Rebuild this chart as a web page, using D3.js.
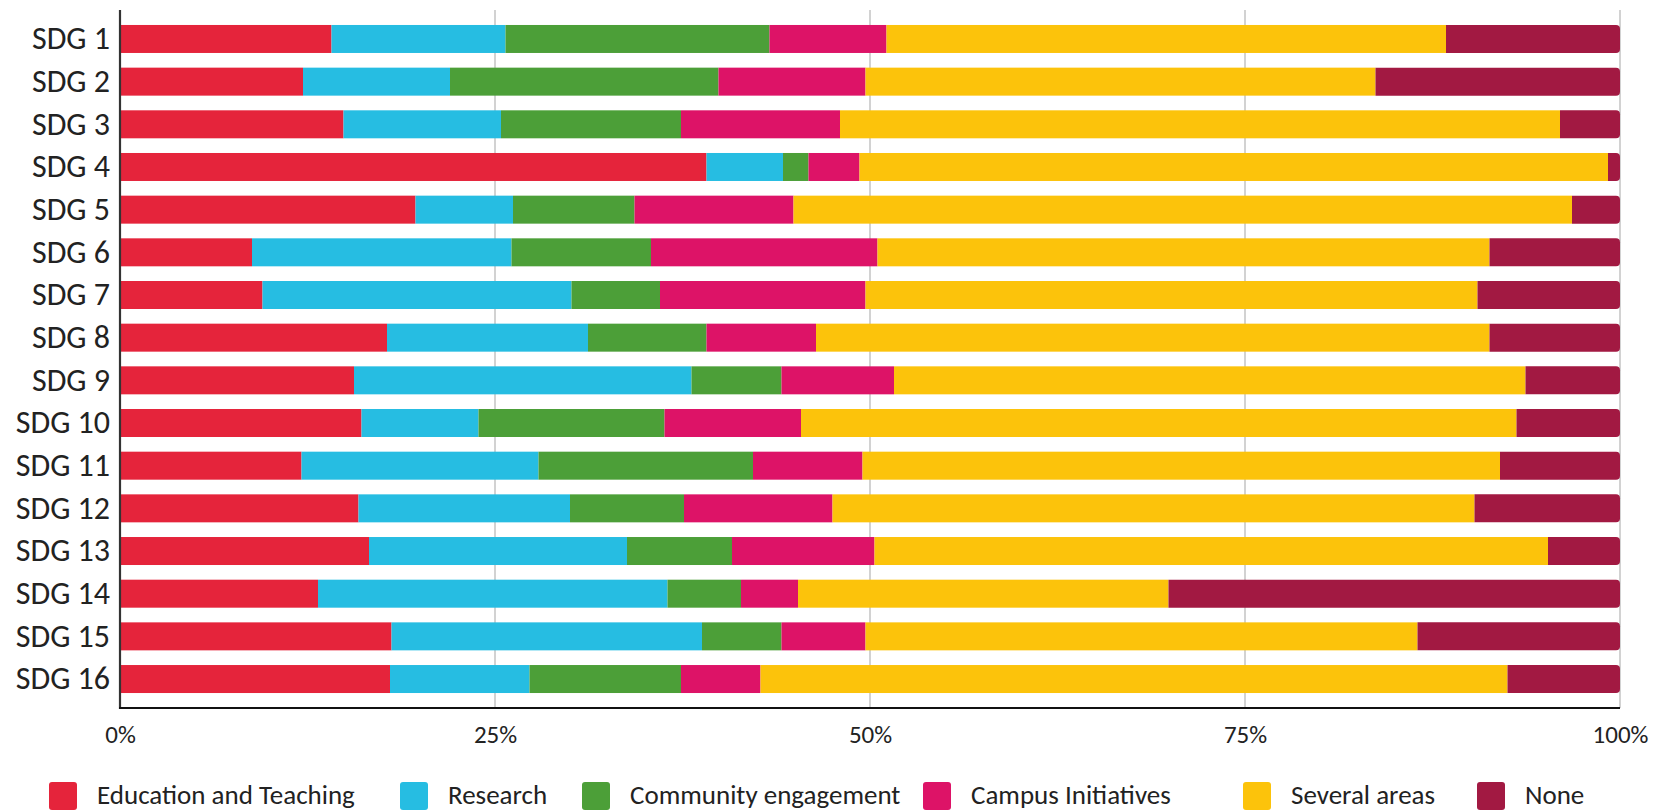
<!DOCTYPE html>
<html><head><meta charset="utf-8">
<script src="https://cdn.jsdelivr.net/npm/d3@7/dist/d3.min.js"></script>
<style>
body{margin:0;background:#fff}
svg{display:block}
text{font-family:Carlito, Lato, "Open Sans", sans-serif;fill:#222}
</style>
</head><body>
<svg id="chart" width="1657" height="811"></svg>
<script>
// ---- data ----
const categories = ["SDG 1","SDG 2","SDG 3","SDG 4","SDG 5","SDG 6","SDG 7","SDG 8","SDG 9","SDG 10","SDG 11","SDG 12","SDG 13","SDG 14","SDG 15","SDG 16"];
const seriesNames = ["Education and Teaching","Research","Community engagement","Campus Initiatives","Several areas","None"];
const educationTeaching   = [14.1,12.2,14.9,39.1,19.7, 8.8, 9.5,17.8,15.6,16.1,12.1,15.9,16.6,13.2,18.1,18.0];
const research            = [11.6, 9.8,10.5, 5.1, 6.5,17.3,20.6,13.4,22.5, 7.8,15.8,14.1,17.2,23.3,20.7, 9.3];
const communityEngagement = [17.6,17.9,12.0, 1.7, 8.1, 9.3, 5.9, 7.9, 6.0,12.4,14.3, 7.6, 7.0, 4.9, 5.3,10.1];
const campusInitiatives   = [ 7.8, 9.8,10.6, 3.4,10.6,15.1,13.7, 7.3, 7.5, 9.1, 7.3, 9.9, 9.5, 3.8, 5.6, 5.3];
const severalAreas        = [37.3,34.0,48.0,49.9,51.9,40.8,40.8,44.9,42.1,47.7,42.5,42.8,44.9,24.7,36.8,49.8];
const none                = [11.6,16.3, 4.0, 0.8, 3.2, 8.7, 9.5, 8.7, 6.3, 6.9, 8.0, 9.7, 4.8,30.1,13.5, 7.5];
const tickValues = [0,25,50,75,100];
const tickLabels = ["0%","25%","50%","75%","100%"];
const colors = ["#E5243B","#26BDE2","#4C9F38","#DD1367","#FCC30B","#A21942"];

// ---- layout ----
const svg = d3.select("#chart");
const M = {left:120, right:1620, top:10, bottom:708};
const seriesArrays = [educationTeaching, research, communityEngagement, campusInitiatives, severalAreas, none];
const rows = categories.map((c,i)=>{
  const o = {cat:c};
  seriesNames.forEach((s,k)=>{ o[s] = seriesArrays[k][i]; });
  const tot = d3.sum(seriesArrays, a=>a[i]);
  seriesNames.forEach(s=>{ o[s] = o[s]/tot*100; });
  return o;
});
const stack = d3.stack().keys(seriesNames)(rows);

const x = d3.scaleLinear().domain([0,100]).range([M.left, M.right]);
const y = d3.scaleBand().domain(categories).range([M.top, M.bottom]).paddingInner(0.344).paddingOuter(0.351);
const color = d3.scaleOrdinal().domain(seriesNames).range(colors);

// gridlines
svg.append("g").selectAll("line").data(tickValues.filter(t=>t>0)).join("line")
  .attr("x1",d=>x(d)).attr("x2",d=>x(d)).attr("y1",M.top).attr("y2",M.bottom)
  .attr("stroke","#d2d2d2").attr("stroke-width",2);

// bars
function roundedRight(x0,x1,y0,h,r){
  const p = d3.path();
  r = Math.min(r,(x1-x0)/2,h/2);
  p.moveTo(x0,y0);
  p.lineTo(x1-r,y0);
  p.arcTo(x1,y0,x1,y0+r,r);
  p.lineTo(x1,y0+h-r);
  p.arcTo(x1,y0+h,x1-r,y0+h,r);
  p.lineTo(x0,y0+h);
  p.closePath();
  return p.toString();
}
const layers = svg.append("g").selectAll("g").data(stack).join("g").attr("fill",d=>color(d.key));
layers.each(function(layer, li){
  const g = d3.select(this);
  if(li === stack.length-1){
    g.selectAll("path").data(layer).join("path")
      .attr("d",d=>roundedRight(x(d[0]), x(d[1]), y(d.data.cat), y.bandwidth(), 4));
  } else {
    g.selectAll("rect").data(layer).join("rect")
      .attr("x",d=>x(d[0])).attr("width",d=>x(d[1])-x(d[0]))
      .attr("y",d=>y(d.data.cat)).attr("height",y.bandwidth());
  }
});

// y axis labels
const yAxis = d3.axisLeft(y).tickSize(0).tickPadding(10);
const gy = svg.append("g").attr("transform",`translate(${M.left},0)`).call(yAxis);
gy.select(".domain").remove();
gy.selectAll("text").attr("font-size",32).attr("fill","#222").style("font-family","Carlito, Lato, sans-serif");

// x axis labels
const xAxis = d3.axisBottom(x).tickValues(tickValues).tickFormat((d,i)=>tickLabels[i]).tickSize(0).tickPadding(17);
const gx = svg.append("g").attr("transform",`translate(0,${M.bottom})`).call(xAxis);
gx.select(".domain").remove();
gx.selectAll("text").attr("font-size",25).attr("fill","#222").attr("dy","0.71em").style("font-family","Carlito, Lato, sans-serif");

// axis lines
svg.append("line").attr("x1",M.left).attr("x2",M.left).attr("y1",M.top).attr("y2",M.bottom+1)
  .attr("stroke","#333").attr("stroke-width",2.2);
svg.append("line").attr("x1",M.left-1).attr("x2",M.right).attr("y1",M.bottom).attr("y2",M.bottom)
  .attr("stroke","#111").attr("stroke-width",2.2);

// legend
const legendX = [49, 400, 582, 923, 1243, 1477];
const lg = svg.append("g").selectAll("g").data(seriesNames).join("g")
  .attr("transform",(d,i)=>`translate(${legendX[i]},782)`);
lg.append("rect").attr("width",28).attr("height",28).attr("rx",3).attr("fill",d=>color(d));
lg.append("text").attr("x",48).attr("y",22).attr("font-size",27).text(d=>d);
</script>
</body></html>
